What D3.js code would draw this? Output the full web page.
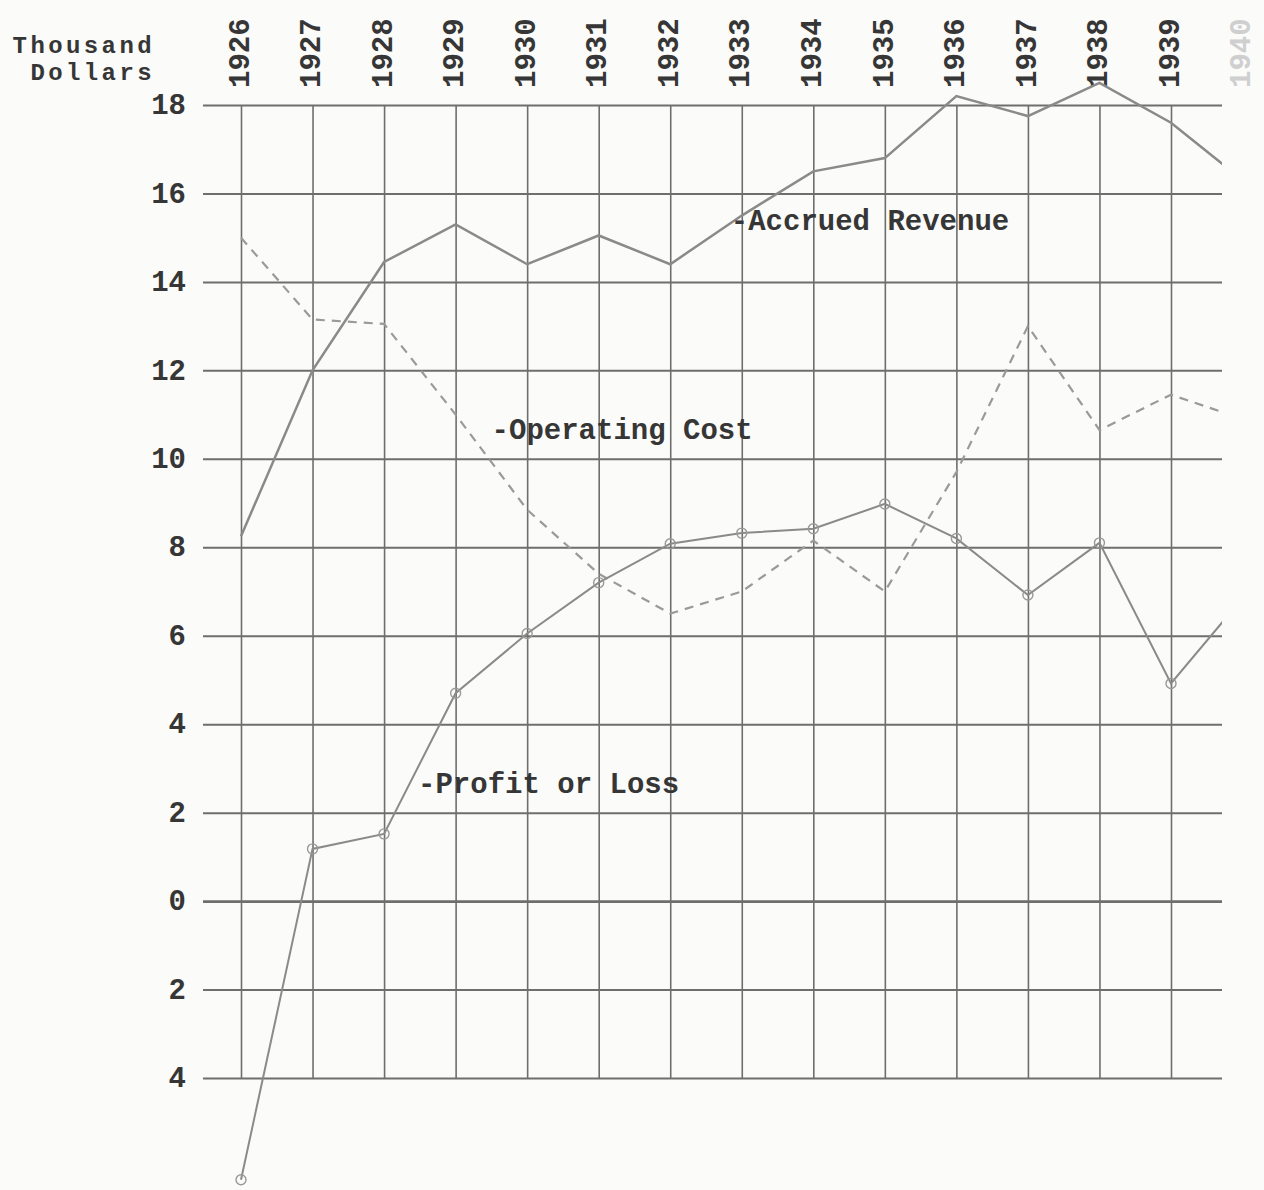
<!DOCTYPE html>
<html>
<head>
<meta charset="utf-8">
<script src="https://cdn.jsdelivr.net/npm/d3@7/dist/d3.min.js"></script>
<style>
  html, body { margin: 0; padding: 0; background: #fbfbf9; }
  svg { display: block; }
  text { font-family: "Liberation Mono", "DejaVu Sans Mono", monospace; font-weight: bold; }
</style>
</head>
<body>
<svg id="chart" width="1264" height="1190"></svg>
<script>
// ---- data (thousand dollars) ----
const years = [1926, 1927, 1928, 1929, 1930, 1931, 1932, 1933, 1934, 1935, 1936, 1937, 1938, 1939, 1940];
const gridYears = [1926, 1927, 1928, 1929, 1930, 1931, 1932, 1933, 1934, 1935, 1936, 1937, 1938, 1939];
const accruedRevenue = [8.25, 12.0, 14.45, 15.3, 14.4, 15.05, 14.4, 15.5, 16.5, 16.8, 18.2, 17.75, 18.5, 17.6, 16.3];
const operatingCost  = [15.0, 13.15, 13.05, 11.0, 8.85, 7.4, 6.5, 7.0, 8.15, 7.0, 9.7, 13.0, 10.65, 11.45, 10.9];
const profitOrLoss   = [-6.3, 1.18, 1.52, 4.7, 6.05, 7.2, 8.08, 8.32, 8.42, 8.98, 8.2, 6.92, 8.1, 4.92, 6.85];
const yTickValues = [18, 16, 14, 12, 10, 8, 6, 4, 2, 0, -2, -4];
const yTickLabels = ["18", "16", "14", "12", "10", "8", "6", "4", "2", "0", "2", "4"];
const seriesLabels = ["-Accrued Revenue", "-Operating Cost", "-Profit or Loss"];
const titleLines = ["Thousand", "Dollars"];

// ---- layout ----
const svg = d3.select("#chart");
const gridLeft = 203, gridRight = 1222, gridTop = 105, gridBottom = 1078;
const x = d3.scaleLinear().domain([1926, 1939]).range([241, 1171]);
const y = d3.scaleLinear().domain([-4, 18]).range([gridBottom, gridTop]);

const ink = "#363636";
const gridColor = "#6e6e6e";
const lineColor = "#8a8a8a";

// vertical grid lines
const xGrid = svg.append("g")
  .attr("transform", `translate(0,${gridBottom})`)
  .call(d3.axisBottom(x).tickValues(gridYears).tickSize(-(gridBottom - gridTop)).tickFormat(""));
xGrid.select(".domain").remove();
xGrid.selectAll(".tick line").attr("stroke", gridColor).attr("stroke-width", 1.6);

// horizontal grid lines + y labels
const yAxis = svg.append("g")
  .attr("transform", `translate(${gridLeft},0)`)
  .call(d3.axisLeft(y).tickValues(yTickValues)
    .tickSize(-(gridRight - gridLeft))
    .tickPadding(17)
    .tickFormat((d, i) => yTickLabels[i]));
yAxis.select(".domain").remove();
yAxis.selectAll(".tick line")
  .attr("stroke", gridColor)
  .attr("stroke-width", d => d === 0 ? 2.6 : 2);
yAxis.selectAll(".tick text")
  .attr("fill", ink)
  .style("font-size", "29px")
  .attr("dy", "0.3em");

// top year labels (rotated)
const xTop = svg.append("g")
  .attr("transform", "translate(-3,88)")
  .call(d3.axisTop(x).tickValues(years).tickSize(0).tickFormat(d3.format("d")));
xTop.select(".domain").remove();
xTop.selectAll(".tick text")
  .attr("transform", "rotate(-90)")
  .attr("text-anchor", "start")
  .attr("x", 0)
  .attr("y", 0)
  .attr("dy", "0.35em")
  .attr("fill", d => d === 1940 ? "#cfcfcf" : ink)
  .style("font-size", "29px");

// title
svg.append("g").selectAll("text").data(titleLines).join("text")
  .attr("x", 155)
  .attr("y", (d, i) => 53 + i * 27)
  .attr("text-anchor", "end")
  .attr("fill", ink)
  .style("font-size", "24px")
  .style("letter-spacing", "3.4px")
  .text(d => d);

// clip for lines
svg.append("defs").append("clipPath").attr("id", "clip")
  .append("rect").attr("x", 0).attr("y", 0).attr("width", gridRight).attr("height", 1190);

const line = d3.line().x((d, i) => x(years[i])).y(d => y(d));
const plot = svg.append("g").attr("clip-path", "url(#clip)");

plot.append("path")
  .datum(accruedRevenue)
  .attr("d", line)
  .attr("fill", "none")
  .attr("stroke", lineColor)
  .attr("stroke-width", 2.5);

plot.append("path")
  .datum(operatingCost)
  .attr("d", line)
  .attr("fill", "none")
  .attr("stroke", "#9a9a9a")
  .attr("stroke-width", 2.2)
  .attr("stroke-dasharray", "9,7");

plot.append("path")
  .datum(profitOrLoss)
  .attr("d", line)
  .attr("fill", "none")
  .attr("stroke", lineColor)
  .attr("stroke-width", 2);

plot.append("g").selectAll("circle")
  .data(profitOrLoss.slice(0, gridYears.length))
  .join("circle")
  .attr("cx", (d, i) => x(years[i]))
  .attr("cy", d => y(d))
  .attr("r", 5)
  .attr("fill", "none")
  .attr("stroke", "#999")
  .attr("stroke-width", 1.4);

// series labels
const labelAnchors = [
  { yr: 1933, dx: -11, v: 15.17 },
  { yr: 1929, dx: 36, v: 10.45 },
  { yr: 1928, dx: 34, v: 2.45 }
];
svg.append("g").selectAll("text").data(seriesLabels).join("text")
  .attr("x", (d, i) => x(labelAnchors[i].yr) + labelAnchors[i].dx)
  .attr("y", (d, i) => y(labelAnchors[i].v))
  .attr("fill", ink)
  .style("font-size", "29px")
  .text(d => d);
</script>
</body>
</html>
